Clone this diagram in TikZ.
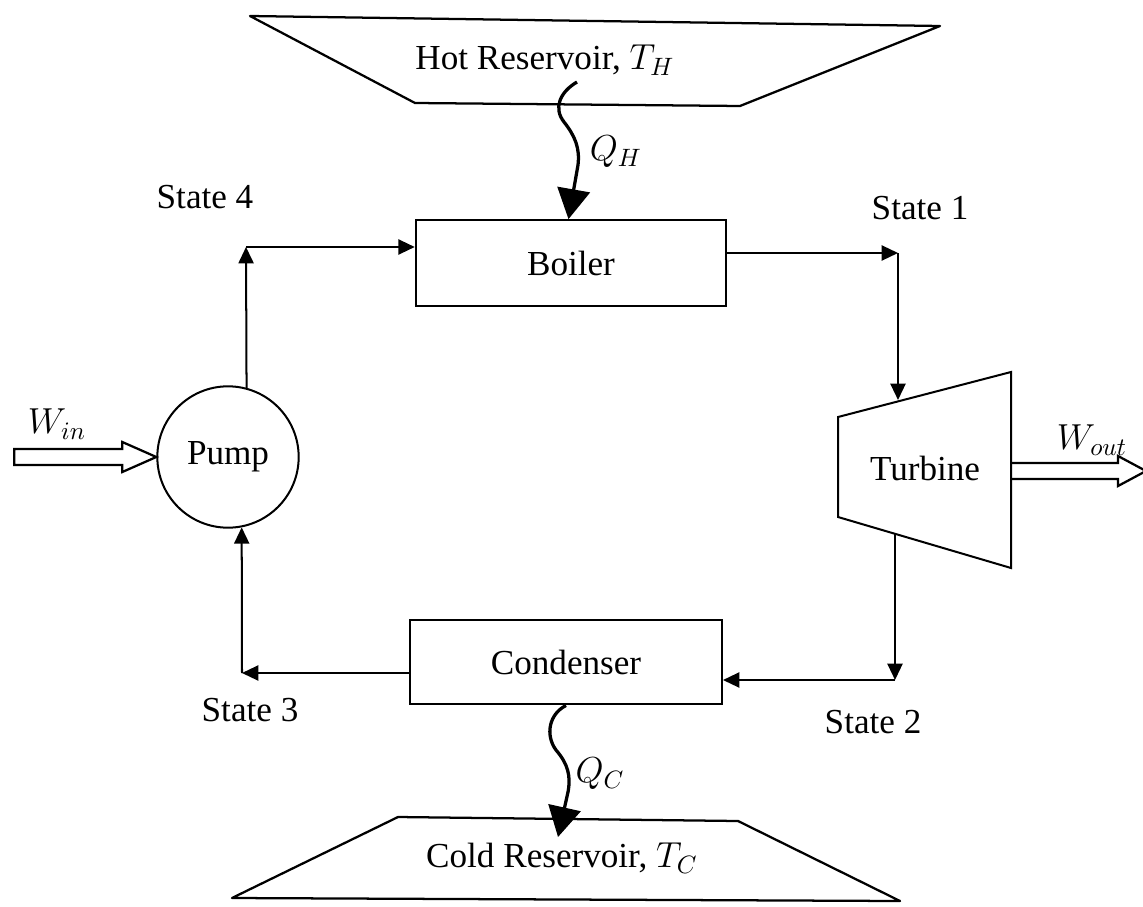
\documentclass[tikz,border=0pt]{standalone}
\usepackage{fontspec}
\setmainfont{Liberation Serif}
\usetikzlibrary{arrows.meta,positioning}
\tikzset{
  every node/.style={font=\fontsize{14}{16}\selectfont},
  unit/.style={draw,line width=0.8pt},
  res/.style={draw,line width=0.9pt,line join=round},
  flow/.style={line width=0.8pt,-{Triangle[length=6.5pt,width=6pt]}},
  heat/.style={line width=1.3pt,-{Triangle[length=12pt,width=13pt]}},
  work/.style={draw,line width=0.9pt,line join=miter},
}
\begin{document}
\begin{tikzpicture}[x=0.014cm,y=-0.014cm]
\useasboundingbox (0,0) rectangle (1143,906);
% reservoirs
\draw[res] (250,16) -- (940,26) -- (740,106) -- (415,103) -- cycle;
\node (hot) at (545,60) {Hot Reservoir, $T_H$};
\draw[res] (398,817) -- (738,821) -- (900,901) -- (232,898) -- cycle;
\node (cold) at (562,858) {Cold Reservoir, $T_C$};
% components
\node[unit,minimum width=4.35cm,minimum height=1.2cm] (boiler) at (571,263) {Boiler};
\node[unit,minimum width=4.37cm,minimum height=1.19cm] (condenser) at (566,662) {Condenser};
\node[unit,circle,minimum size=1.98cm,inner sep=0pt] (pump) at (228,457) {Pump\hspace{0.5em}};
\draw[unit] (838,417) -- (1011,372) -- (1011,568) -- (838,517) -- cycle;
\node (turbine) at (925,468) {Turbine};
\coordinate (t-in) at (898,400);
\coordinate (t-out) at (895,534);
\coordinate (t-east) at (1011,471);
% states
\coordinate (s4) at (246,247);
\coordinate (s1) at (898,253);
\coordinate (s2) at (895,680);
\coordinate (s3) at (242,673);
\node (lbl4) at (205,197) {State 4};
\node (lbl1) at (920,208) {State 1};
\node (lbl2) at (873,722) {State 2};
\node (lbl3) at (250,710) {State 3};
% cycle
\draw[flow] (pump.75) -- (s4);
\draw[flow] (s4) -- (s4 -| boiler.west);
\draw[flow] (s1 -| boiler.east) -- (s1);
\draw[flow] (s1) -- (t-in);
\draw[flow] (t-out) -- (s2);
\draw[flow] (s2) -- (s2 -| condenser.east);
\draw[flow] (s3 -| condenser.west) -- (s3);
\draw[flow] (s3) -- (pump.-79);
% heat
\coordinate (qh) at (577,82);
\draw[heat] (qh) .. controls (560,92) and (553,108) .. (564,122)
  .. controls (575,136) and (580,148) .. (578,165) -- ([xshift=-1pt]boiler.north);
\node (qhl) at (616,152) {$Q_H$};
\coordinate (qc) at (558,837);
\draw[heat] (condenser.south) .. controls (549,714) and (545,735) .. (556,750)
  .. controls (568,764) and (571,776) .. (568,792) -- (qc);
\node (qcl) at (600,774) {$Q_C$};
% work
\draw[work] (pump.west) -- ++(-34,-15) -- ++(0,7) -- ++(-108,0) -- ++(0,16)
  -- ++(108,0) -- ++(0,7) -- cycle;
\node (win) at (57,424) {$W_{in}$};
\draw[work] (t-east) ++(0,-8) -- ++(107,0) -- ++(0,-7) -- ++(28,15) -- ++(-28,15)
  -- ++(0,-7) -- ++(-107,0);
\node (wout) at (1092,440) {$W_{out}$};
\end{tikzpicture}
\end{document}
